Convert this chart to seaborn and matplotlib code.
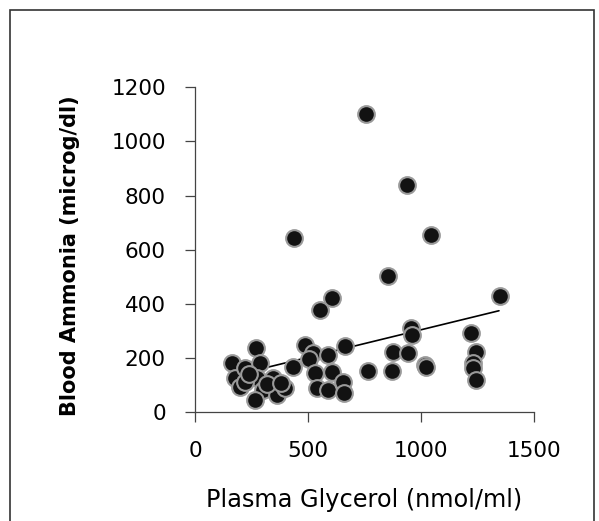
import matplotlib
matplotlib.use("Agg")
import matplotlib.pyplot as plt
import seaborn as sns
import pandas as pd
from matplotlib.patches import Rectangle

# Data
glycerol = [162, 177, 199, 221, 270, 287, 273, 346, 221, 302, 361, 398, 265,
            435, 486, 523, 589, 663, 505, 530, 604, 538, 589, 656, 659,
            766, 872, 877, 943, 1017, 1022, 955, 962, 1223, 1245, 1231, 1228,
            1242, 1348, 852, 1043, 940, 756, 440, 555, 604, 318, 382, 240]
ammonia = [181, 126, 95, 163, 237, 181, 126, 126, 113, 83, 64, 89, 46,
           169, 249, 218, 212, 245, 195, 144, 150, 89, 83, 113, 70,
           153, 153, 224, 218, 175, 166, 313, 286, 292, 224, 181, 163,
           120, 428, 502, 656, 840, 1100, 645, 379, 422, 105, 110, 140]

trend_x = [290, 1345]
trend_y = [160, 375]

x_ticks = [0, 500, 1000, 1500]
y_ticks = [0, 200, 400, 600, 800, 1000, 1200]
x_label = "Plasma Glycerol (nmol/ml)"
y_label = "Blood Ammonia (microg/dl)"

df = pd.DataFrame({"glycerol": glycerol, "ammonia": ammonia})
trend = pd.DataFrame({"x": trend_x, "y": trend_y})

sns.set_theme(style="white")
plt.rcParams["font.family"] = ["DejaVu Sans"]
plt.rcParams["text.color"] = "black"
plt.rcParams["axes.labelcolor"] = "black"
plt.rcParams["xtick.color"] = "black"
plt.rcParams["ytick.color"] = "black"

fig = plt.figure(figsize=(5.99, 5.21), dpi=100)
ax = fig.add_axes([195 / 599, 108.7 / 521, 339 / 599, 325 / 521])

sns.lineplot(data=trend, x="x", y="y", ax=ax, color="black", linewidth=1.2, zorder=1)
sns.scatterplot(data=df, x="glycerol", y="ammonia", ax=ax, s=145,
                color="#121212", edgecolor="#9a9a9a", linewidth=1.5, zorder=2)

ax.set_xlim(0, 1500)
ax.set_ylim(0, 1200)
ax.set_xticks(x_ticks)
ax.set_yticks(y_ticks)
ax.set_xticklabels([str(v) for v in x_ticks], fontsize=15.5)
ax.set_yticklabels([str(v) for v in y_ticks], fontsize=15.5)
ax.tick_params(axis="both", direction="out", length=7, width=0.9, color="#444444",
               labelcolor="black", left=True, bottom=True)
ax.tick_params(axis="x", pad=14)
ax.tick_params(axis="y", pad=14)

for side in ["top", "right"]:
    ax.spines[side].set_visible(False)
for side in ["left", "bottom"]:
    ax.spines[side].set_color("#444444")
    ax.spines[side].set_linewidth(0.9)

ax.set_xlabel(x_label, fontsize=17.3, color="black")
ax.set_ylabel(y_label, fontsize=15, fontweight="bold", color="black")
ax.xaxis.set_label_coords(0.5, -0.232)
ax.yaxis.set_label_coords(-0.34, 0.481)

# outer frame around the figure
fig.patches.append(Rectangle((10 / 599, -0.05), 584 / 599, (511 / 521) + 0.05,
                             transform=fig.transFigure, fill=False,
                             edgecolor="#333333", linewidth=1.2))

fig.savefig("out.png", dpi=100)
